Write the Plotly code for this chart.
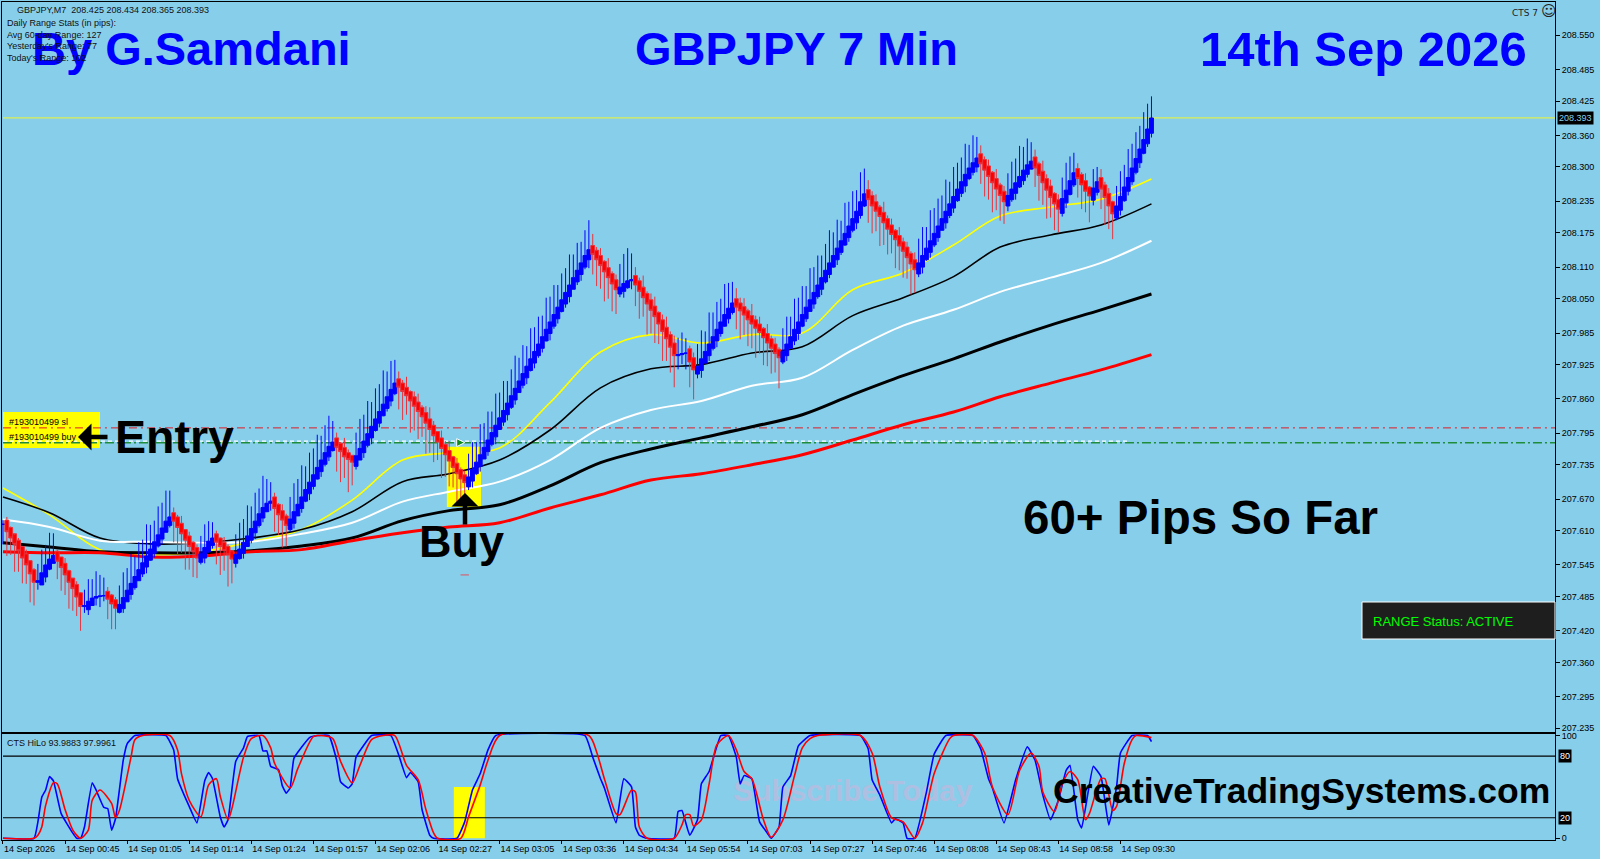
import plotly.graph_objects as go

W, H = 1600, 859
SKY = "#87CEEB"
FONT = "Liberation Sans"

# bar closes, one line per swing of the chart (red / blue runs)
closes = [
    207.622, 207.608, 207.596, 207.584, 207.572, 207.558, 207.545, 207.528, 207.512,
    207.515, 207.530, 207.545, 207.556, 207.563,
    207.552, 207.540, 207.526, 207.512, 207.500, 207.484, 207.466,
    207.468, 207.476, 207.482, 207.485, 207.486, 207.487,
    207.480, 207.471, 207.463,
    207.470, 207.483, 207.497, 207.510, 207.523, 207.536, 207.549, 207.562, 207.575, 207.589, 207.602, 207.615, 207.628, 207.636,
    207.628, 207.616, 207.604, 207.592, 207.580, 207.570, 207.558,
    207.566, 207.578, 207.590, 207.596,
    207.588, 207.580, 207.572, 207.564, 207.556,
    207.565, 207.575, 207.588, 207.600, 207.614, 207.628, 207.642, 207.654, 207.662, 207.666,
    207.652, 207.640, 207.630, 207.620,
    207.632, 207.646, 207.660, 207.674, 207.688, 207.702, 207.716, 207.730, 207.744, 207.758, 207.770, 207.778,
    207.768, 207.760, 207.750, 207.745, 207.740,
    207.752, 207.766, 207.780, 207.794, 207.808, 207.822, 207.836, 207.850, 207.864, 207.878, 207.890,
    207.882, 207.874, 207.866, 207.856, 207.846, 207.836, 207.826, 207.814, 207.802, 207.790, 207.778, 207.766, 207.754, 207.742, 207.730, 207.718, 207.708, 207.701,
    207.712, 207.726, 207.740, 207.754, 207.768, 207.782, 207.796, 207.810, 207.824, 207.838, 207.852, 207.866, 207.880, 207.894, 207.908, 207.922,
    207.936, 207.950, 207.964, 207.978, 207.992, 208.006, 208.020, 208.034, 208.048, 208.062, 208.076, 208.090, 208.104, 208.118, 208.132, 208.143,
    208.134, 208.124, 208.113, 208.101, 208.090, 208.078, 208.067,
    208.072, 208.079, 208.084, 208.086,
    208.076, 208.064, 208.052, 208.040, 208.028, 208.016, 208.002, 207.988, 207.974, 207.958, 207.942,
    207.944, 207.946, 207.947,
    207.930, 207.915,
    207.922, 207.936, 207.950, 207.964, 207.978, 207.992, 208.006, 208.020, 208.032, 208.042,
    208.034, 208.027, 208.019, 208.010, 208.002, 207.994, 207.986, 207.976, 207.966, 207.956, 207.946, 207.938,
    207.950, 207.964, 207.978, 207.992, 208.006, 208.020, 208.034, 208.048, 208.062, 208.076, 208.090, 208.104, 208.118, 208.132, 208.146, 208.160, 208.174, 208.188, 208.202, 208.216, 208.234, 208.249,
    208.238, 208.226, 208.216, 208.206, 208.194, 208.182, 208.172, 208.162, 208.150, 208.140, 208.128, 208.116, 208.105,
    208.118, 208.132, 208.146, 208.160, 208.174, 208.188, 208.202, 208.216, 208.230, 208.244, 208.258, 208.272, 208.286, 208.298, 208.308, 208.317,
    208.306, 208.294, 208.282, 208.270, 208.258, 208.246, 208.234,
    208.246, 208.258, 208.270, 208.282, 208.294, 208.304, 208.311,
    208.298, 208.284, 208.270, 208.256, 208.242, 208.230, 208.220,
    208.240, 208.256, 208.274, 208.289,
    208.278, 208.266, 208.254, 208.245,
    208.260, 208.272,
    208.258, 208.242, 208.226, 208.211,
    208.226, 208.244, 208.262, 208.280, 208.298, 208.316, 208.334, 208.352, 208.372, 208.393,
]

# wick lengths in points (0.001), same swing layout as closes
upper_pts = [
    8, 14, 10, 6, 12, 9, 16, 7, 11,
    32, 44, 38, 50, 42,
    12, 8, 18, 10, 6, 14, 9,
    30, 42, 36, 48, 40, 34,
    16, 10, 13,
    36, 48, 42, 56, 38, 52, 44, 60, 46, 40, 54, 48, 58, 50,
    18, 12, 22, 8, 16, 10, 14,
    34, 44, 38, 30,
    14, 9, 18, 12, 7,
    38, 50, 44, 58, 42, 54, 48, 60, 46, 36,
    16, 10, 20, 12,
    42, 54, 48, 60, 44, 56, 50, 62, 46, 52, 58, 40,
    18, 10, 26, 14, 8,
    44, 56, 50, 62, 46, 58, 52, 64, 48, 54, 44,
    22, 14, 28, 10, 18, 24, 12, 20, 30, 16, 8, 22, 14, 26, 10, 18, 12, 16,
    44, 52, 38, 58, 46, 54, 40, 60, 48, 56, 42, 50, 62, 44, 54, 38, 58, 46, 52, 40, 60, 48, 56, 42, 50, 46, 58, 44, 52, 40, 48, 56,
    30, 14, 22, 10, 26, 12, 18,
    44, 56, 62, 50,
    24, 14, 30, 12, 20, 26, 10, 18, 28, 14, 22,
    32, 40, 28,
    14, 18,
    42, 54, 38, 60, 46, 52, 44, 58, 48, 40,
    28, 18, 24, 12, 30, 16, 22, 10, 26, 14, 20, 12,
    44, 52, 38, 58, 46, 54, 40, 60, 48, 56, 42, 50, 62, 44, 54, 38, 58, 46, 52, 40, 56, 48,
    26, 16, 22, 12, 28, 14, 20, 10, 24, 16, 18, 12, 22,
    46, 54, 40, 58, 48, 52, 44, 60, 42, 56, 50, 46, 58, 44, 52, 40,
    24, 14, 20, 10, 26, 12, 18,
    42, 52, 46, 58, 44, 50, 36,
    22, 12, 28, 16, 20, 10, 18,
    40, 52, 46, 38,
    18, 12, 22, 10,
    36, 28,
    24, 14, 18, 10,
    38, 48, 42, 54, 46, 50, 44, 52, 48, 41,
]
lower_pts = [
    38, 46, 32, 52, 40, 48, 36, 54, 44,
    14, 8, 18, 10, 6,
    34, 44, 38, 50, 42, 36, 46,
    12, 18, 8, 14, 20, 10,
    38, 48, 40,
    10, 16, 8, 18, 12, 6, 14, 20, 9, 16, 11, 18, 8, 12,
    40, 52, 36, 56, 44, 48, 38,
    12, 18, 10, 14,
    42, 54, 38, 60, 46,
    16, 10, 18, 8, 14, 20, 12, 16, 9, 14,
    44, 38, 52, 40,
    12, 18, 8, 16, 10, 20, 14, 9, 18, 12, 16, 10,
    46, 58, 40, 62, 44,
    14, 8, 18, 12, 20, 10, 16, 9, 14, 18, 11,
    42, 54, 36, 60, 46, 52, 38, 58, 44, 50, 34, 56, 42, 48, 38, 54, 46, 40,
    14, 20, 10, 18, 8, 16, 12, 22, 9, 15, 19, 11, 17, 8, 14, 20, 10, 18, 12, 16, 9, 21, 13, 17, 10, 15, 19, 8, 14, 20, 12, 24,
    38, 50, 44, 56, 40, 52, 46,
    14, 20, 10, 16,
    40, 52, 36, 58, 44, 50, 38, 56, 42, 48, 60,
    26, 18, 30,
    48, 56,
    16, 22, 10, 18, 12, 20, 14, 9, 17, 12,
    42, 54, 38, 50, 46, 56, 40, 52, 44, 48, 36, 58,
    12, 18, 9, 16, 20, 10, 14, 8, 17, 12, 19, 11, 15, 9, 18, 13, 10, 16, 12, 20, 14, 10,
    44, 52, 38, 56, 42, 48, 36, 54, 46, 50, 40, 58, 44,
    14, 20, 10, 18, 12, 16, 9, 19, 13, 17, 10, 15, 20, 11, 14, 18,
    38, 50, 44, 56, 40, 48, 42,
    18, 12, 20, 10, 16, 14, 9,
    36, 48, 42, 54, 38, 50, 44,
    14, 18, 10, 12,
    36, 46, 40, 50,
    18, 14,
    38, 52, 44, 48,
    12, 18, 10, 16, 14, 12, 18, 10, 14, 16,
]

# moving averages, read every 50px or so along the chart
ma_bars = [0, 12, 25, 38, 51, 64, 77, 90, 103, 115, 128, 141, 154, 167, 180, 193, 206, 219, 232, 245, 257, 270, 283, 296]
ma_red = [207.570, 207.568, 207.568, 207.560, 207.562, 207.570, 207.574, 207.591, 207.606, 207.617, 207.625, 207.653,
          207.678, 207.706, 207.718, 207.735, 207.754, 207.782, 207.811, 207.835, 207.864, 207.890, 207.915, 207.944]
ma_black_thick = [207.587, 207.579, 207.570, 207.568, 207.568, 207.572, 207.581, 207.596, 207.629, 207.648, 207.659, 207.695,
                  207.739, 207.765, 207.786, 207.807, 207.830, 207.868, 207.904, 207.936, 207.968, 208.000, 208.029, 208.059]
ma_white = [207.631, 207.617, 207.591, 207.589, 207.587, 207.589, 207.604, 207.625, 207.665, 207.684, 207.703, 207.744,
            207.805, 207.839, 207.856, 207.885, 207.900, 207.953, 207.999, 208.029, 208.063, 208.090, 208.118, 208.160]
ma_black_thin = [207.674, 207.644, 207.596, 207.585, 207.587, 207.596, 207.612, 207.646, 207.703, 207.718, 207.744, 207.801,
                 207.881, 207.917, 207.925, 207.947, 207.959, 208.018, 208.052, 208.092, 208.148, 208.171, 208.190, 208.230]
ma_yellow = [207.691, 207.640, 207.574, 207.564, 207.570, 207.589, 207.612, 207.668, 207.744, 207.758, 207.767, 207.853,
             207.949, 207.982, 207.966, 207.982, 207.985, 208.067, 208.099, 208.152, 208.207, 208.224, 208.239, 208.277]

# CTS HiLo panel
hilo_blue_bars = [0, 8, 9, 10, 11, 12, 13, 15, 18, 19, 20, 21, 23, 24, 26, 27, 28, 29, 31, 32, 34, 42, 44, 45, 48, 50, 52, 53, 54, 56,
                  57, 58, 60, 62, 63, 66, 67, 68, 69, 71, 72, 73, 74, 75, 79, 81, 84, 86, 87, 89, 90, 91, 95, 100, 102, 104, 105,
                  107, 108, 110, 111, 117, 119, 121, 123, 125, 127, 150, 152, 154, 155, 158, 160, 162, 163, 164, 166, 173, 174, 175,
                  177, 179, 180, 182, 185, 187, 189, 190, 191, 193, 195, 197, 198, 200, 201, 203, 205, 208, 221, 223, 224, 226,
                  229, 230, 232, 233, 235, 238, 240, 243, 250, 252, 254, 255, 258, 261, 264, 266, 268, 270, 272, 274, 275, 277,
                  278, 281, 283, 285, 287, 288, 291, 295, 296]
hilo_blue = [0, 0, 16, 40, 47, 60, 56, 24, 5, 0, 0, 11, 54, 47, 30, 29, 8, 19, 76, 92, 100, 100, 86, 58, 31, 15, 56, 64, 58, 21,
             11, 18, 75, 88, 99, 100, 85, 85, 70, 67, 51, 44, 49, 78, 98, 100, 100, 76, 55, 49, 53, 79, 100, 100, 81, 59, 64,
             55, 28, 3, 0, 0, 16, 47, 63, 86, 100, 100, 79, 58, 49, 15, 58, 50, 11, 3, 0, 0, 26, 27,
             3, 18, 53, 65, 100, 100, 79, 53, 61, 58, 16, 5, 0, 11, 50, 61, 90, 100, 100, 87, 57, 42,
             15, 19, 15, 0, 0, 45, 82, 100, 100, 87, 58, 49, 15, 57, 89, 76, 42, 18, 37, 66, 71, 18,
             10, 70, 60, 13, 50, 83, 100, 100, 93.99]
hilo_red_bars = [0, 8, 9, 10, 11, 13, 14, 16, 18, 20, 22, 23, 25, 28, 29, 30, 33, 34, 36, 43, 45, 46, 48, 51, 53, 55, 56, 58, 59,
                 62, 64, 67, 69, 70, 74, 76, 80, 82, 85, 87, 90, 92, 95, 98, 101, 104, 107, 109, 111, 112, 118, 120, 123, 125, 128,
                 151, 153, 155, 158, 159, 162, 163, 164, 166, 173, 175, 176, 177, 178, 180, 182, 184, 187, 189, 191, 193, 196, 198,
                 201, 204, 206, 208, 210, 221, 224, 226, 229, 232, 235, 237, 240, 244, 245, 250, 253, 255, 259, 262, 265, 267, 268,
                 271, 273, 275, 277, 279, 280, 283, 284, 286, 287, 289, 291, 292, 296]
hilo_red = [0, 0, 3, 11, 32, 54, 53, 28, 8, 0, 8, 37, 47, 34, 20, 27, 79, 96, 100, 100, 86, 63, 37, 21, 52, 58, 41, 18, 29,
            79, 97, 100, 88, 73, 49, 68, 99, 100, 97, 75, 54, 71, 96, 100, 100, 71, 57, 28, 5, 0, 0, 21, 52, 76, 100,
            100, 84, 58, 24, 23, 47, 45, 11, 0, 0, 13, 23, 23, 12, 18, 53, 91, 100, 86, 65, 58, 18, 1,
            18, 61, 88, 97, 100, 100, 83, 50, 20, 16, 0, 15, 63, 97, 100, 100, 83, 50, 23, 66, 83, 70, 45,
            26, 53, 65, 57, 18, 24, 58, 58, 27, 31, 73, 96, 100, 97.99]

hilo_levels = [80, 20]

# x ticks every 16 bars
x_tick_bars = [0, 16, 32, 48, 64, 80, 96, 112, 128, 144, 160, 176, 192, 208, 224, 240, 256, 272, 288]
x_tick_text = ["14 Sep 2026", "14 Sep 00:45", "14 Sep 01:05", "14 Sep 01:14", "14 Sep 01:24", "14 Sep 01:57",
               "14 Sep 02:06", "14 Sep 02:27", "14 Sep 03:05", "14 Sep 03:36", "14 Sep 04:34", "14 Sep 05:54",
               "14 Sep 07:03", "14 Sep 07:27", "14 Sep 07:46", "14 Sep 08:08", "14 Sep 08:43", "14 Sep 08:58", "14 Sep 09:30"]
y_tick_prices = [208.550, 208.485, 208.425, 208.360, 208.300, 208.235, 208.175, 208.110, 208.050, 207.985, 207.925,
                 207.860, 207.795, 207.735, 207.670, 207.610, 207.545, 207.485, 207.420, 207.360, 207.295, 207.235]

last_price = 208.393
sl_price = 207.805
buy_price = 207.777
open_price = 207.780
BODY_OVERLAP = 0.008  # heikin-ashi style bodies reach back over the previous close


def px(x):
    return x / W


def py(y):
    return 1 - y / H


bars = list(range(len(closes)))
prev_closes = closes[:1] + closes[:-1]
opens = []
for prev, close in zip(prev_closes, closes):
    if abs(close - prev) < 0.004:
        opens.append(prev)
    elif close > prev:
        opens.append(prev - BODY_OVERLAP)
    else:
        opens.append(prev + BODY_OVERLAP)
highs = [max(o, c) + u / 1000 for o, c, u in zip(prev_closes, closes, upper_pts)]
lows = [min(o, c) - d / 1000 for o, c, d in zip(prev_closes, closes, lower_pts)]

fig = go.Figure()


def add_line(x, y, color, width, yaxis="y", xaxis="x", dash=None, shape="linear", smoothing=None):
    fig.add_trace(go.Scatter(x=x, y=y, mode="lines", xaxis=xaxis, yaxis=yaxis, hoverinfo="skip", showlegend=False,
                             line=dict(color=color, width=width, dash=dash, shape=shape, smoothing=smoothing)))


# level lines
add_line([0, 400], [last_price, last_price], "#DDEE55", 1.2)
add_line([0, 400], [sl_price, sl_price], "#E01B24", 1, dash="8px,4px,2px,4px")
add_line([0, 290], [open_price, open_price], "#FFFFFF", 1.3, dash="4px,3px")
add_line([0, 400], [buy_price, buy_price], "#1E8C3A", 1.5, dash="9px,3px,2px,3px")

# moving averages
add_line(ma_bars, ma_yellow, "#FFFF00", 1.6, shape="spline")
add_line(ma_bars, ma_black_thin, "#000000", 1.6, shape="spline")
add_line(ma_bars, ma_white, "#FFFFFF", 2, shape="spline")
add_line(ma_bars, ma_black_thick, "#000000", 3, shape="spline")
add_line(ma_bars, ma_red, "#FF0000", 3, shape="spline")

# trade marks next to the buy candle
fig.add_trace(go.Scatter(x=[119], y=[buy_price], mode="markers", hoverinfo="skip", showlegend=False,
                         marker=dict(symbol="arrow-right", size=8, color="#0F8A1F", line=dict(color="#FFFFFF", width=1))))
fig.add_trace(go.Scatter(x=[119], y=[207.526], mode="markers", hoverinfo="skip", showlegend=False,
                         marker=dict(symbol="line-ew", size=6, line=dict(color="#E0505A", width=1))))

# candles on an overlay axis so they sit above the averages
fig.add_trace(go.Candlestick(x=bars, open=opens, high=highs, low=lows, close=closes, xaxis="x", yaxis="y3",
                             hoverinfo="skip", showlegend=False, whiskerwidth=0,
                             increasing=dict(line=dict(color="#0000FF", width=1), fillcolor="#0000FF"),
                             decreasing=dict(line=dict(color="#E8333C", width=1), fillcolor="#FF0000")))

# indicator panel
fig.add_trace(go.Scatter(x=[219], y=[44], mode="text", text=["Subscribe Today"], xaxis="x2", yaxis="y2",
                         hoverinfo="skip", showlegend=False,
                         textfont=dict(family=FONT, size=30, color="#AEBFE2", weight="bold")))
for level in hilo_levels:
    add_line([0, 400], [level, level], "#000000", 1.2, yaxis="y2", xaxis="x2")
add_line(hilo_blue_bars, hilo_blue, "#0000FF", 1.6, yaxis="y2", xaxis="x2", shape="spline", smoothing=0.35)
add_line(hilo_red_bars, hilo_red, "#FF0000", 1.6, yaxis="y2", xaxis="x2", shape="spline", smoothing=0.7)

x_dom = [px(2), px(1555)]
x_range = [-0.25, 400]
common_y = dict(side="right", showgrid=False, zeroline=False, showline=True, mirror=True, linecolor="#000000",
                linewidth=1, ticks="outside", ticklen=4, tickcolor="#000000", tickwidth=1,
                tickfont=dict(family=FONT, size=9, color="#000000"))
common_x = dict(domain=x_dom, range=x_range, showgrid=False, zeroline=False, showline=True, mirror=True,
                linecolor="#000000", linewidth=1)

fig.update_layout(
    width=W, height=H, autosize=False,
    margin=dict(l=0, r=0, t=0, b=0, pad=0, autoexpand=False),
    paper_bgcolor=SKY, plot_bgcolor=SKY,
    showlegend=False,
    boxgap=0, boxgroupgap=0,
    xaxis=dict(**common_x, anchor="y", showticklabels=False, ticks="", rangeslider=dict(visible=False)),
    xaxis2=dict(**common_x, anchor="y2", matches="x", tickmode="array", tickvals=x_tick_bars, ticktext=x_tick_text,
                ticks="outside", ticklen=3, tickcolor="#000000", ticklabelposition="outside right", tickangle=0,
                tickfont=dict(family=FONT, size=9, color="#000000")),
    yaxis=dict(**common_y, domain=[py(732), py(2)], range=[207.228, 208.613], anchor="x", tickmode="array",
               tickvals=y_tick_prices, ticktext=[f"{p:.3f}" for p in y_tick_prices]),
    yaxis2=dict(**common_y, domain=[py(840), py(734)], range=[-1.65, 101.5], anchor="x2", tickmode="array",
                tickvals=[100, 0], ticktext=["100", "0"]),
    yaxis3=dict(overlaying="y", range=[207.228, 208.613], visible=False, side="right"),
)

# yellow highlights and the info boxes
shapes = [
    dict(type="rect", xref="x", yref="y", x0=114.4, x1=123.2, y0=207.655, y1=207.769,
         fillcolor="#FFFF00", line=dict(width=0), layer="below"),
    dict(type="rect", xref="x2", yref="y2", x0=116.2, x1=124.2, y0=0, y1=50,
         fillcolor="#FFFF00", line=dict(width=0), layer="below"),
    dict(type="rect", xref="paper", yref="paper", x0=px(3), x1=px(100), y0=py(448), y1=py(412),
         fillcolor="#FFFF00", line=dict(width=0), layer="below"),
    dict(type="rect", xref="paper", yref="paper", x0=px(1362), x1=px(1555), y0=py(639), y1=py(602),
         fillcolor="#1E1E1E", line=dict(color="#FFFFFF", width=1), layer="above"),
]
fig.update_layout(shapes=shapes)


def label(text, x, y, size, color="#000000", bold=False, anchor="center", family=FONT):
    fig.add_annotation(text=text, xref="paper", yref="paper", x=px(x), y=py(y), xanchor=anchor, yanchor="middle",
                       showarrow=False,
                       font=dict(family=family, size=size, color=color, weight="bold" if bold else "normal"))


def arrow(tip_x, tip_y, ax, ay):
    fig.add_annotation(text="", xref="paper", yref="paper", x=px(tip_x), y=py(tip_y), ax=ax, ay=ay, showarrow=True,
                       arrowhead=1, arrowwidth=4.5, arrowsize=1, arrowcolor="#000000", standoff=0)


label("By G.Samdani", 191, 49, 47, "#0000FF", True)
label("GBPJPY 7 Min", 796, 49, 47, "#0000FF", True)
label("14th Sep 2026", 1363, 49, 49, "#0000FF", True)
label("Entry", 174, 437, 46.5, bold=True)
arrow(78, 437, 31, 0)
label("Buy", 461, 541, 45, bold=True)
arrow(465, 493, 0, 33)
label("60+ Pips So Far", 1200, 517, 47.5, bold=True)
label("CreativeTradingSystems.com", 1301, 791, 35.5, bold=True)
label("RANGE Status: ACTIVE", 1371, 621, 13, "#00FF00", anchor="left")

label("GBPJPY,M7\u00a0\u00a0208.425 208.434 208.365 208.393", 15, 10, 9, "#111111", anchor="left")
label("Daily Range Stats (in pips):", 5, 23, 9, "#111111", anchor="left")
label("Avg 60-day Range: 127", 5, 35, 9, "#111111", anchor="left")
label("Yesterday's Range: 77", 5, 46, 9, "#111111", anchor="left")
label("Today's Range: 102", 5, 58, 9, "#111111", anchor="left")
label('CTS 7 <span style="font-size:15px">☺</span>', 1510, 11, 9, "#222222", anchor="left", family="DejaVu Sans")
label("CTS HiLo 93.9883 97.9961", 5, 743, 9, "#111111", anchor="left")
label("#193010499 sl", 7, 422, 9, anchor="left")
label("#193010499 buy", 7, 437, 9, anchor="left")

# axis tags with a black background
fig.add_annotation(text=f"{last_price:.3f}", xref="paper", yref="y", x=px(1557), y=last_price, xanchor="left",
                   showarrow=False, bgcolor="#000000", font=dict(family=FONT, size=9, color=SKY))
for level in hilo_levels:
    fig.add_annotation(text=str(level), xref="paper", yref="y2", x=px(1558), y=level, xanchor="left",
                       showarrow=False, bgcolor="#000000", font=dict(family=FONT, size=9, color="#FFFFFF"))

fig.write_html("out.html", config={"displayModeBar": False},
               post_script="document.body.style.margin='0';document.body.style.overflow='hidden';")
